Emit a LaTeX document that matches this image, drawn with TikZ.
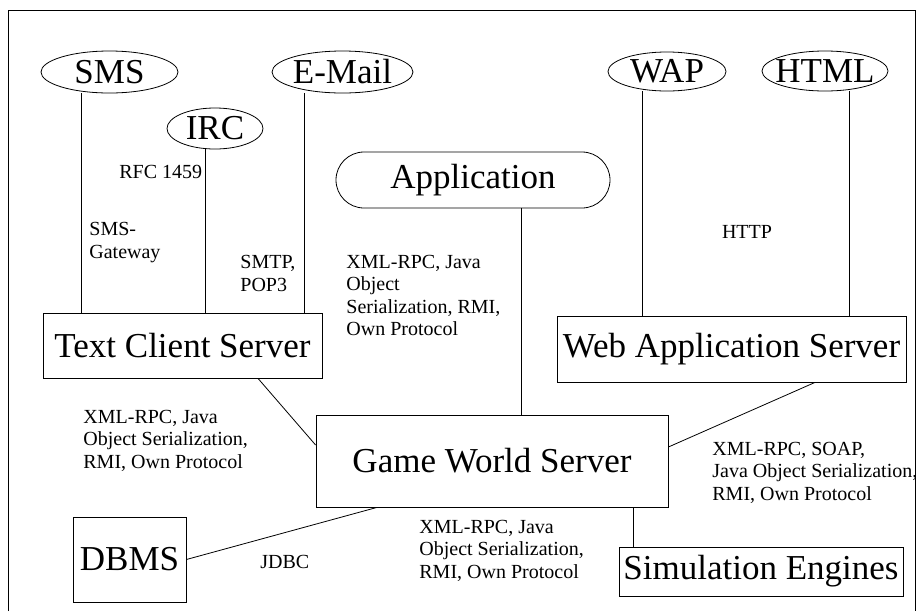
\documentclass[tikz,border=0pt]{standalone}
\usepackage{fontspec}
\setmainfont{Liberation Serif}
\usepackage{tikz}
\usetikzlibrary{shapes.geometric}

\begin{document}
\begin{tikzpicture}[x=1pt,y=-1pt,line width=0.8pt]
\tikzstyle{proto}=[ellipse,draw,inner sep=0pt,font=\fontsize{35}{40}\selectfont]
\tikzstyle{server}=[rectangle,draw,inner sep=0pt,font=\fontsize{35}{40}\selectfont]
\tikzstyle{protolabel}=[align=left,anchor=base west,inner sep=0pt,font=\fontsize{20}{22.5}\selectfont]
\useasboundingbox (0,0) rectangle (916,611);
\draw (8,611) -- (8,10) -- (915,10) -- (915,611);
\foreach \name/\point/\w/\h/\txt in {
	sms/{109.5,72}/137/42/SMS,
	irc/{215,128.5}/96/41/IRC,
	email/{342.5,72}/141/42/E-Mail,
	wap/{667,71.5}/118/39/WAP,
	html/{825,71}/126/40/HTML}
	\node[proto,minimum width=\w pt,minimum height=\h pt] (\name) at (\point) {\makebox[0pt]{\txt}};
\node[server,rounded corners=28pt,minimum width=274pt,minimum height=56pt] (app) at (473,180) {Application};
\node[server,minimum width=279pt,minimum height=65pt] (tcs) at (182.5,345.5) {Text Client Server};
\node[server,minimum width=349pt,minimum height=66pt] (was) at (731.5,349) {Web Application Server};
\node[server,minimum width=352pt,minimum height=92pt] (gws) at (492,461) {Game World Server};
\node[server,minimum width=113pt,minimum height=85pt] (dbms) at (129.5,559.5) {DBMS};
\node[server,minimum width=284pt,minimum height=49pt] (sim) at (761,571.5) {Simulation Engines};
% connector ends
\coordinate (smsbot) at ([xshift=-28.5pt]sms.south);
\coordinate (ircbot) at ([xshift=-10pt]irc.south);
\coordinate (emailbot) at ([xshift=-38.5pt]email.south);
\coordinate (appbot) at ([xshift=48pt]app.south);
\coordinate (wapbot) at ([xshift=-25pt]wap.south);
\coordinate (htmlbot) at ([xshift=24pt]html.south);
\coordinate (tcsbot) at ([xshift=75.5pt]tcs.south);
\coordinate (gwsleft) at ([yshift=16pt]gws.west);
\coordinate (gwsdb) at ([xshift=-115pt]gws.south);
\coordinate (gwsright) at ([yshift=14pt]gws.east);
\coordinate (wasbot) at ([xshift=83.5pt]was.south);
\coordinate (gwssim) at ([xshift=141pt]gws.south);
\draw (smsbot) -- (smsbot |- tcs.north);
\draw (ircbot) -- (ircbot |- tcs.north);
\draw (emailbot) -- (emailbot |- tcs.north);
\draw (appbot) -- (appbot |- gws.north);
\draw (wapbot) -- (wapbot |- was.north);
\draw (htmlbot) -- (htmlbot |- was.north);
\draw (tcsbot) -- (gwsleft);
\draw (dbms.east) -- (gwsdb);
\draw (gwsright) -- (wasbot);
\draw (gwssim) -- (gwssim |- sim.north);
% protocols (base = last line)
\node[protolabel] (rfc) at (119,178) {RFC 1459};
\node[protolabel] (smsgw) at (89,258) {SMS-\\Gateway};
\node[protolabel] (smtp) at (240,291) {SMTP,\\POP3};
\node[protolabel] (applbl) at (346,335.5) {XML-RPC, Java\\Object\\Serialization, RMI,\\Own Protocol};
\node[protolabel,anchor=base] (http) at (747,238) {HTTP};
\node[protolabel] (tcslbl) at (83,468) {XML-RPC, Java\\Object Serialization,\\RMI, Own Protocol};
\node[protolabel] (waslbl) at (712,500) {XML-RPC, SOAP,\\Java Object Serialization,\\RMI, Own Protocol};
\node[protolabel] (simlbl) at (419,578) {XML-RPC, Java\\Object Serialization,\\RMI, Own Protocol};
\node[protolabel] (jdbc) at (260,568) {JDBC};
\end{tikzpicture}
\end{document}
